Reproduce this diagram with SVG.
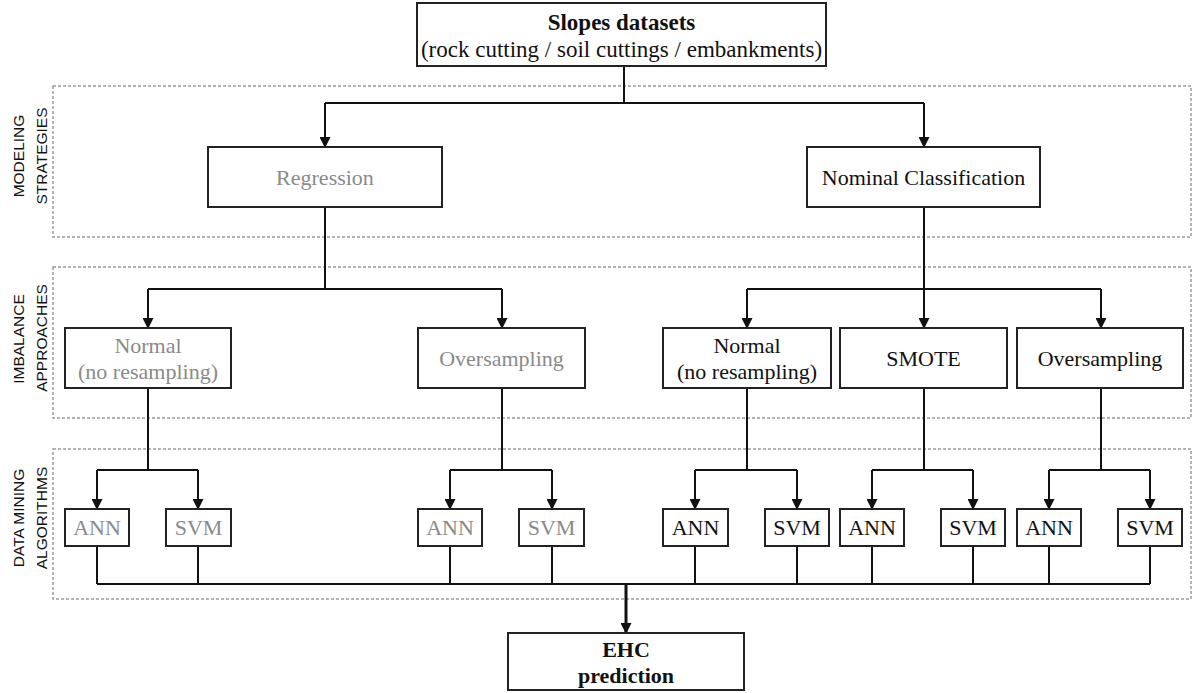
<svg xmlns="http://www.w3.org/2000/svg" width="1197" height="693" viewBox="0 0 1197 693">
<style>
.box{fill:#fff;stroke:#222;stroke-width:2}
.t{font-family:"Liberation Serif","Times New Roman",serif;font-size:22px;text-anchor:middle;fill:#111}
.big{font-size:23px}
.g{fill:#8a8a8a}
.b{font-weight:bold}
.lab{font-family:"Liberation Sans",Arial,sans-serif;font-size:15.5px;text-anchor:middle;fill:#111}
.zone{fill:none;stroke:#9a9a9a;stroke-width:1.5;stroke-dasharray:3 2}
.c{fill:none;stroke:#111;stroke-width:2}
.a{fill:none;stroke:#111;stroke-width:2;marker-end:url(#ah)}
</style>
<defs>
<marker id="ah" markerUnits="userSpaceOnUse" markerWidth="11" markerHeight="11" refX="10" refY="5.5" orient="auto">
<path d="M0,0 L11,5.5 L0,11 z" fill="#111"/>
</marker>
</defs>
<rect width="1197" height="693" fill="#fff"/>
<g id="zones">
<rect class="zone" x="53" y="86" width="1138" height="151"/>
<rect class="zone" x="53" y="267" width="1138" height="151"/>
<rect class="zone" x="53" y="449" width="1138" height="150"/>
<text class="lab" transform="translate(24,156) rotate(-90)">MODELING</text>
<text class="lab" transform="translate(46.5,156) rotate(-90)">STRATEGIES</text>
<text class="lab" transform="translate(24,339) rotate(-90)">IMBALANCE</text>
<text class="lab" transform="translate(46.5,338) rotate(-90)">APPROACHES</text>
<text class="lab" transform="translate(24,518) rotate(-90)">DATA MINING</text>
<text class="lab" transform="translate(46.5,518) rotate(-90)">ALGORITHMS</text>
</g>
<g id="connectors">
<path class="c" d="M624,66 V103 M325,103 H924"/>
<path class="a" d="M325,103 V147"/>
<path class="a" d="M924,103 V147"/>
<path class="c" d="M325,207 V289 M148,289 H502"/>
<path class="a" d="M148,289 V328"/>
<path class="a" d="M502,289 V328"/>
<path class="c" d="M924,207 V289 M747,289 H1101"/>
<path class="a" d="M747,289 V328"/>
<path class="a" d="M924,289 V328"/>
<path class="a" d="M1101,289 V328"/>
<path class="c" d="M148,388 V470 M97,470 H198 M502,388 V470 M450,470 H552 M747,388 V470 M695,470 H797 M924,388 V470 M872,470 H973 M1101,388 V470 M1049,470 H1150"/>
<path class="a" d="M97,470 V509"/>
<path class="a" d="M198,470 V509"/>
<path class="a" d="M450,470 V509"/>
<path class="a" d="M552,470 V509"/>
<path class="a" d="M695,470 V509"/>
<path class="a" d="M797,470 V509"/>
<path class="a" d="M872,470 V509"/>
<path class="a" d="M973,470 V509"/>
<path class="a" d="M1049,470 V509"/>
<path class="a" d="M1150,470 V509"/>
<path class="c" d="M97,546 V584 M198,546 V584 M450,546 V584 M552,546 V584 M695,546 V584 M797,546 V584 M872,546 V584 M973,546 V584 M1049,546 V584 M1150,546 V584 M97,584 H1150"/>
<path class="a" style="stroke-width:3" d="M626,584 V633"/>
</g>
<g id="slopes">
<rect class="box" x="417" y="3" width="409" height="63"/>
<text class="t big b" x="621.5" y="30">Slopes datasets</text>
<text class="t big" x="621.5" y="57">(rock cutting / soil cuttings / embankments)</text>
</g>
<g id="regression">
<rect class="box" x="208" y="147" width="234" height="60"/>
<text class="t g" x="325" y="185">Regression</text>
</g>
<g id="nominal">
<rect class="box" x="807" y="147" width="233" height="60"/>
<text class="t" x="923.5" y="185">Nominal Classification</text>
</g>
<g id="reg-normal">
<rect class="box" x="65" y="328" width="166" height="60"/>
<text class="t g" x="148" y="353">Normal</text>
<text class="t g" x="148" y="379">(no resampling)</text>
</g>
<g id="reg-over">
<rect class="box" x="418" y="328" width="167" height="60"/>
<text class="t g" x="501.5" y="366">Oversampling</text>
</g>
<g id="cls-normal">
<rect class="box" x="663" y="328" width="168" height="60"/>
<text class="t" x="747" y="353">Normal</text>
<text class="t" x="747" y="379">(no resampling)</text>
</g>
<g id="cls-smote">
<rect class="box" x="840" y="328" width="167" height="60"/>
<text class="t" x="923.5" y="366">SMOTE</text>
</g>
<g id="cls-over">
<rect class="box" x="1017" y="328" width="166" height="60"/>
<text class="t" x="1100" y="366">Oversampling</text>
</g>
<g id="ann1"><rect class="box" x="65" y="509" width="64" height="37"/><text class="t g" x="97" y="535">ANN</text></g>
<g id="svm1"><rect class="box" x="166" y="509" width="65" height="37"/><text class="t g" x="198.5" y="535">SVM</text></g>
<g id="ann2"><rect class="box" x="418" y="509" width="64" height="37"/><text class="t g" x="450" y="535">ANN</text></g>
<g id="svm2"><rect class="box" x="519" y="509" width="65" height="37"/><text class="t g" x="551.5" y="535">SVM</text></g>
<g id="ann3"><rect class="box" x="663" y="509" width="65" height="37"/><text class="t" x="695.5" y="535">ANN</text></g>
<g id="svm3"><rect class="box" x="765" y="509" width="64" height="37"/><text class="t" x="797" y="535">SVM</text></g>
<g id="ann4"><rect class="box" x="840" y="509" width="64" height="37"/><text class="t" x="872" y="535">ANN</text></g>
<g id="svm4"><rect class="box" x="941" y="509" width="64" height="37"/><text class="t" x="973" y="535">SVM</text></g>
<g id="ann5"><rect class="box" x="1017" y="509" width="64" height="37"/><text class="t" x="1049" y="535">ANN</text></g>
<g id="svm5"><rect class="box" x="1118" y="509" width="64" height="37"/><text class="t" x="1150" y="535">SVM</text></g>
<g id="ehc">
<rect class="box" x="508" y="633" width="236" height="57"/>
<text class="t b" x="626" y="657">EHC</text>
<text class="t b" x="626" y="683">prediction</text>
</g>
</svg>
